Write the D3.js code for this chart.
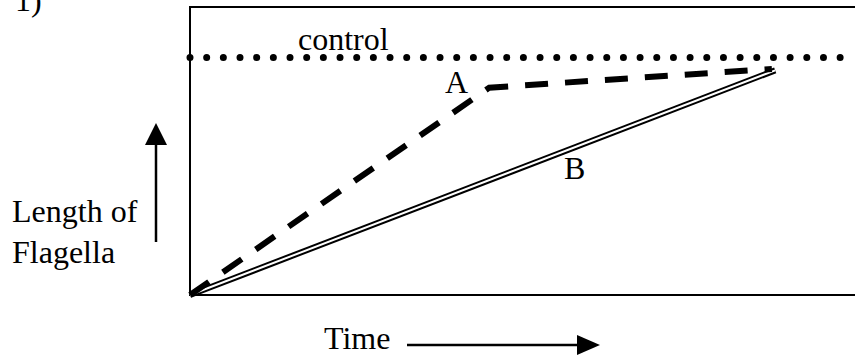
<!DOCTYPE html>
<html><head><meta charset="utf-8">
<script src="https://cdn.jsdelivr.net/npm/d3@7"></script>
<style>html,body{margin:0;padding:0;background:#fff;}svg{display:block;}</style>
</head><body>
<svg id="c" width="855" height="356"></svg>
<script>
// Data (time, length in arbitrary units)
const timeA = [0, 45, 87.5];
const lengthA = [0, 72, 78.5];
const timeB = [0, 88];
const lengthB = [0, 78];
const controlLevel = 82.5;
const labels = ["control", "A", "B"];

const FONT = "'Liberation Serif', 'Times New Roman', Times, 'DejaVu Serif', serif";
const svg = d3.select("#c");
const x = d3.scaleLinear().domain([0, 100]).range([190, 855]);
const y = d3.scaleLinear().domain([0, 100]).range([295, 7]);
const line = d3.line().x(d => x(d[0])).y(d => y(d[1]));

function txt(xp, yp, s) {
  return svg.append("text").attr("x", xp).attr("y", yp)
    .attr("font-family", FONT).attr("font-size", 32).attr("fill", "#000")
    .style("font-family", FONT).text(s);
}

// frame: left, top, bottom (no right border)
svg.append("path")
  .attr("d", `M${x(100)},${y(100)}H${x(0)}V${y(0)}H${x(100)}`)
  .attr("fill", "none").attr("stroke", "#000").attr("stroke-width", 2);

// control dotted line
svg.append("line")
  .attr("x1", x(0)).attr("x2", x(100)).attr("y1", y(controlLevel)).attr("y2", y(controlLevel))
  .attr("stroke", "#000").attr("stroke-width", 7).attr("stroke-linecap", "round")
  .attr("stroke-dasharray", "0,16.67");

// line B (double line)
const ptsB = timeB.map((t, i) => [t, lengthB[i]]);
svg.append("path").attr("d", line(ptsB)).attr("fill", "none")
  .attr("stroke", "#000").attr("stroke-width", 6);
svg.append("path").attr("d", line(ptsB)).attr("fill", "none")
  .attr("stroke", "#fff").attr("stroke-width", 2);

// line A (dashed)
const ptsA = timeA.map((t, i) => [t, lengthA[i]]);
svg.append("path").attr("d", line(ptsA)).attr("fill", "none")
  .attr("stroke", "#000").attr("stroke-width", 6)
  .attr("stroke-dasharray", "23,17").attr("stroke-linejoin", "miter");

// labels
txt(298, 50, labels[0]);
txt(445, 93, labels[1]);
txt(564, 179, labels[2]);

// panel number
txt(15, 11, "1)");

// y axis label and arrow
txt(12, 222, "Length of");
txt(12, 263, "Flagella");
svg.append("line").attr("x1", 156).attr("x2", 156).attr("y1", 242).attr("y2", 140)
  .attr("stroke", "#000").attr("stroke-width", 2.5);
svg.append("path").attr("d", "M156,123L167,145L145,145Z").attr("fill", "#000");

// x axis label and arrow
txt(324, 349, "Time");
svg.append("line").attr("x1", 407).attr("x2", 582).attr("y1", 345).attr("y2", 345)
  .attr("stroke", "#000").attr("stroke-width", 2.5);
svg.append("path").attr("d", "M600,345L577,335L577,355Z").attr("fill", "#000");
</script>
</body></html>
